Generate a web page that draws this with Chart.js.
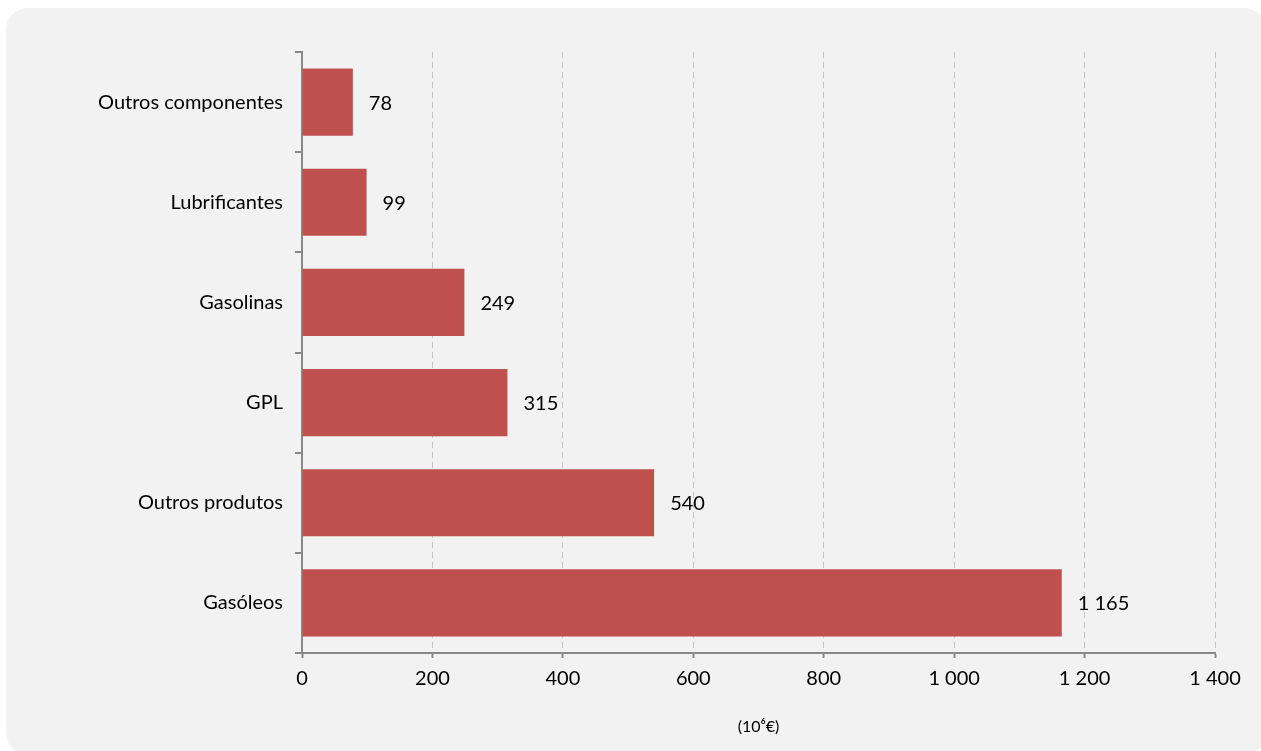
<!DOCTYPE html>
<html lang="pt">
<head>
    <meta charset="UTF-8">
    <title>Produtos</title>
    <style>
        body { margin: 0; background: #fff; font-family: Lato, sans-serif; overflow: hidden; }
        .panel { position: absolute; left: 6px; top: 8px; width: 1260px; height: 747px; background: #f2f2f2; border-radius: 22px; }
        canvas { position: absolute; left: 0; top: 0; }
    </style>
    <script src="https://cdn.jsdelivr.net/npm/chart.js"></script>
</head>
<body>
    <div class="panel"></div>
    <canvas id="chart" width="1261" height="751"></canvas>

    <script>
        const categories = ['Outros componentes', 'Lubrificantes', 'Gasolinas', 'GPL', 'Outros produtos', 'Gasóleos'];
        const values = [78, 99, 249, 315, 540, 1165];
        const unitLabel = '(10⁶€)';

        // thousands separated by a space, e.g. 1 165
        function fmt(n) {
            return String(n).replace(/\B(?=(\d{3})+(?!\d))/g, ' ');
        }

        const barLabels = {
            id: 'barLabels',
            afterDatasetsDraw(chart) {
                const ctx = chart.ctx;
                ctx.save();
                ctx.font = '20px Lato';
                ctx.fillStyle = '#000';
                ctx.textBaseline = 'middle';
                chart.getDatasetMeta(0).data.forEach((bar, i) => {
                    ctx.fillText(fmt(values[i]), bar.x + 16, bar.y + 1);
                });
                ctx.restore();
            }
        };

        new Chart(document.getElementById('chart'), {
            type: 'bar',
            data: {
                labels: categories,
                datasets: [{
                    data: values,
                    backgroundColor: '#c0504d',
                    barPercentage: 0.67,
                    categoryPercentage: 1
                }]
            },
            options: {
                indexAxis: 'y',
                responsive: false,
                animation: false,
                layout: { padding: { top: 52, right: 46, left: 0, bottom: 0 } },
                plugins: {
                    legend: { display: false },
                    tooltip: { enabled: false }
                },
                scales: {
                    x: {
                        min: 0,
                        max: 1400,
                        ticks: {
                            stepSize: 200,
                            color: '#000',
                            font: { family: 'Lato', size: 20 },
                            padding: 9,
                            callback: v => fmt(v)
                        },
                        grid: {
                            color: '#c4c4c4',
                            tickLength: 5,
                            tickColor: '#888',
                            tickBorderDash: [],
                            tickWidth: 2
                        },
                        border: { color: '#888', width: 2, dash: [6, 4] },
                        title: {
                            display: true,
                            text: unitLabel,
                            color: '#000',
                            font: { family: 'Lato', size: 16 },
                            padding: { bottom: 15 }
                        },
                        afterFit(scale) { scale.height = 98; }
                    },
                    y: {
                        ticks: {
                            color: '#000',
                            font: { family: 'Lato', size: 20 },
                            padding: 12
                        },
                        grid: {
                            offset: true,
                            drawOnChartArea: false,
                            tickLength: 7,
                            color: '#888',
                            lineWidth: 2
                        },
                        border: { color: '#888', width: 2 },
                        afterFit(scale) { scale.width = 302; }
                    }
                }
            },
            plugins: [barLabels]
        });
    </script>
</body>
</html>
